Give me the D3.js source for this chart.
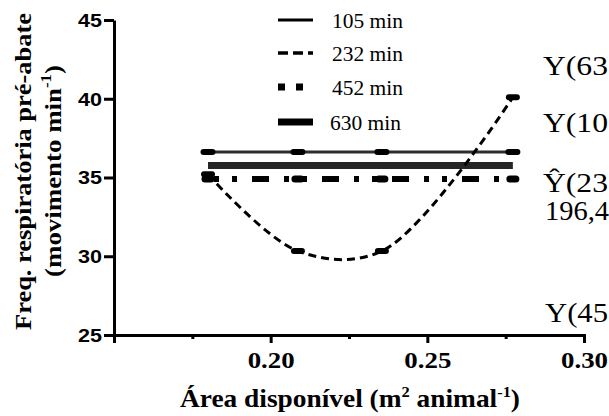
<!DOCTYPE html>
<html><head><meta charset="utf-8">
<script src="https://cdn.jsdelivr.net/npm/d3@7"></script>
<style>
body{margin:0;background:#fff}
svg{display:block}
</style>
</head><body>
<svg id="chart" width="609" height="416"></svg>
<script>
// Available area per animal (m² animal⁻¹) at each pen density
const areas = [0.180, 0.2087, 0.2355, 0.2773];
// Pre-slaughter respiratory rate (movements min⁻¹) per waiting time
const resp105 = [36.62, 36.62, 36.62, 36.62];
const resp232 = [35.2, 30.33, 30.33, 40.1];
const resp452 = [34.9, 34.9, 34.9, 34.9];
const resp630 = [35.76, 35.76, 35.76, 35.76];
const seriesNames = ["105 min", "232 min", "452 min", "630 min"];
const yTicks = [25, 30, 35, 40, 45];
const xTicks = [0.175, 0.20, 0.225, 0.25, 0.275, 0.30];
const xLabelled = [0.20, 0.25, 0.30];
const eqLabels = ["Y(63", "Y(10", "Ŷ(23", "196,4", "Y(45"];

const svg = d3.select("#chart");
const x = d3.scaleLinear().domain([0.15, 0.30]).range([114, 584]);
const y = d3.scaleLinear().domain([25, 45]).range([335, 20]);

const serif = "'Liberation Serif','Times New Roman',serif";
const sans = "'Liberation Sans',Arial,sans-serif";

// ---- axes ----
const yAxis = svg.append("g").attr("transform", "translate(114,0)")
  .call(d3.axisLeft(y).tickValues(yTicks).tickSize(10).tickSizeOuter(0).tickPadding(2));
yAxis.select(".domain").attr("stroke", "#000").attr("stroke-width", 3);
yAxis.selectAll(".tick line").attr("stroke", "#000").attr("stroke-width", 3);
yAxis.selectAll(".tick text")
  .attr("font-family", sans).attr("font-weight", "bold").attr("font-size", 18)
  .attr("fill", "#000").attr("dy", "0.36em")
  .attr("textLength", 24).attr("lengthAdjust", "spacingAndGlyphs");

const xAxis = svg.append("g").attr("transform", "translate(0,335)")
  .call(d3.axisBottom(x).tickValues(xTicks).tickSizeOuter(0).tickSize(8)
    .tickFormat(d => xLabelled.some(v => Math.abs(v - d) < 1e-9) ? d3.format(".2f")(d) : ""));
xAxis.select(".domain").attr("stroke", "#000").attr("stroke-width", 3);
xAxis.selectAll(".tick line").attr("stroke", "#000").attr("stroke-width", 3)
  .attr("y2", d => xLabelled.some(v => Math.abs(v - d) < 1e-9) ? 8 : 4);
xAxis.selectAll(".tick text")
  .attr("font-family", serif).attr("font-weight", "bold").attr("font-size", 23)
  .attr("fill", "#000").attr("y", 33).attr("dy", 0)
  .filter(function(){ return this.textContent !== ""; })
  .attr("textLength", 47).attr("lengthAdjust", "spacingAndGlyphs");

// ---- axis titles ----
const xt = svg.append("text")
  .attr("x", 350).attr("y", 407).attr("text-anchor", "middle")
  .attr("font-family", serif).attr("font-weight", "bold").attr("font-size", 25)
  .attr("textLength", 340).attr("lengthAdjust", "spacingAndGlyphs");
xt.append("tspan").text("Área disponível (m");
xt.append("tspan").attr("font-size", 15).attr("dy", -10).text("2");
xt.append("tspan").attr("dy", 10).text(" animal");
xt.append("tspan").attr("font-size", 15).attr("dy", -10).text("-1");
xt.append("tspan").attr("dy", 10).text(")");

svg.append("text")
  .attr("transform", "translate(31,171.5) rotate(-90)")
  .attr("text-anchor", "middle")
  .attr("font-family", serif).attr("font-weight", "bold").attr("font-size", 24)
  .attr("textLength", 317).attr("lengthAdjust", "spacingAndGlyphs")
  .text("Freq. respiratória pré-abate");

const yt2 = svg.append("text")
  .attr("transform", "translate(61,171) rotate(-90)")
  .attr("text-anchor", "middle")
  .attr("font-family", serif).attr("font-weight", "bold").attr("font-size", 24)
  .attr("textLength", 212).attr("lengthAdjust", "spacingAndGlyphs");
yt2.append("tspan").text("(movimento min");
yt2.append("tspan").attr("font-size", 15).attr("dy", -10).text("-1");
yt2.append("tspan").attr("dy", 10).text(")");

// ---- series ----
const pts = v => areas.map((a, i) => [x(a), y(v[i])]);
const straight = d3.line();
const smooth = d3.line().curve(d3.curveCatmullRom.alpha(0.5));

function markers(v, w, h) {
  svg.append("g").selectAll("rect").data(pts(v)).join("rect")
    .attr("x", d => d[0] - w / 2).attr("y", d => d[1] - h / 2)
    .attr("width", w).attr("height", h).attr("rx", h / 2)
    .attr("fill", "#000");
}

// 105 min: thin solid line
svg.append("path").attr("d", straight(pts(resp105)))
  .attr("fill", "none").attr("stroke", "#2e2e2e").attr("stroke-width", 3);
markers(resp105, 15, 6);

// 630 min: thick solid line
svg.append("path").attr("d", straight(pts(resp630)))
  .attr("fill", "none").attr("stroke", "#262626").attr("stroke-width", 7);

// 452 min: dash–dot–dot line
svg.append("path").attr("d", straight(pts(resp452)))
  .attr("fill", "none").attr("stroke", "#000").attr("stroke-width", 6)
  .attr("stroke-dasharray", "17,15,5,13,5,15").attr("stroke-dashoffset", 26);
markers(resp452, 13, 7);

// 232 min: dashed response curve
svg.append("path").attr("d", smooth(pts(resp232)))
  .attr("fill", "none").attr("stroke", "#000").attr("stroke-width", 3)
  .attr("stroke-dasharray", "8,5");
markers(resp232, 14, 6);

// ---- legend ----
const legY = [20, 53, 87, 122];
const legStyles = [
  {w: 3, dash: null},
  {w: 3.5, dash: "10,5"},
  {w: 7, dash: "7,11"},
  {w: 7, dash: null}
];
const leg = svg.append("g");
seriesNames.forEach((name, i) => {
  leg.append("line")
    .attr("x1", 278).attr("x2", 313).attr("y1", legY[i]).attr("y2", legY[i])
    .attr("stroke", "#000").attr("stroke-width", legStyles[i].w)
    .attr("stroke-dasharray", legStyles[i].dash);
  leg.append("text")
    .attr("x", i === 3 ? 330 : 332).attr("y", legY[i] + 7.5)
    .attr("font-family", serif).attr("font-size", 20)
    .attr("textLength", 71).attr("lengthAdjust", "spacingAndGlyphs")
    .text(name);
});

// ---- regression equations (right margin) ----
const eqPos = [[543, 75, 65], [543, 132, 65], [543, 192, 65], [545, 220, 64], [545, 322, 63]];
svg.append("g").selectAll("text").data(eqLabels).join("text")
  .attr("x", (d, i) => eqPos[i][0]).attr("y", (d, i) => eqPos[i][1])
  .attr("font-family", serif).attr("font-size", 28)
  .attr("textLength", (d, i) => eqPos[i][2]).attr("lengthAdjust", "spacingAndGlyphs")
  .text(d => d);
</script>
</body></html>
